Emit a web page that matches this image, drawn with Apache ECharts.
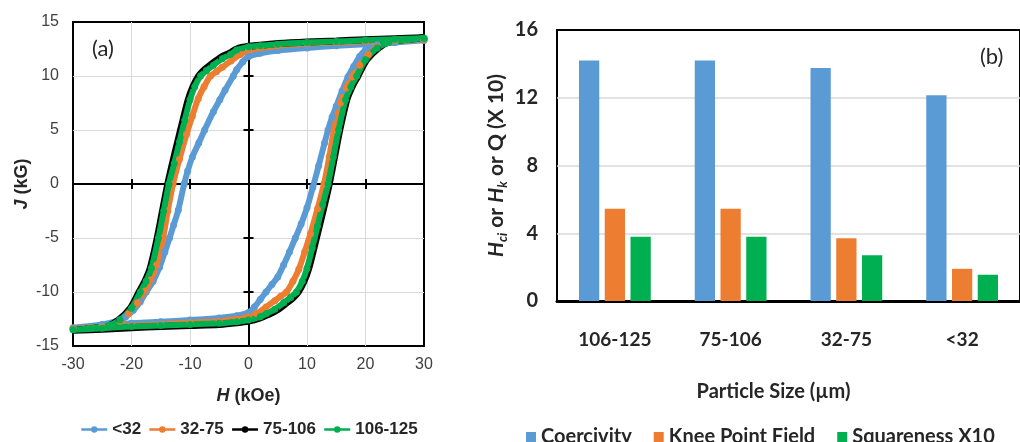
<!DOCTYPE html>
<html><head><meta charset="utf-8">
<script src="https://cdn.jsdelivr.net/npm/echarts@6/dist/echarts.min.js"></script>
<style>html,body{margin:0;padding:0;background:#fff}#c{width:1020px;height:442px}</style>
</head><body><div id="c"></div>
<script>
// ---- (a) hysteresis loops: [H (kOe), J (kG)] — upper branch (30 -> -30) then lower branch (-30 -> 30)
const loopLt32 = [
  [30,13.3],[25,13.1],[20,12.95],[15,12.8],[10,12.6],[5,12.35],[2,12.1],[0,11.8],[-1,11.3],[-2,10.6],[-2.6,10.0],[-4,8.7],[-4.9,7.8],[-6,6.7],[-7.5,5.0],[-8.5,3.8],[-9.6,2.5],[-10.4,1.2],[-11.0,0],[-12.0,-2.4],[-12.8,-3.8],[-13.5,-5.0],[-14.3,-6.3],[-15.2,-7.7],[-16.3,-9.0],[-17.5,-10.0],[-18.5,-10.9],[-19.7,-11.7],[-21,-12.3],[-22,-12.6],[-25,-13.0],[-30,-13.3],
  [-25,-13.1],[-20,-12.9],[-15,-12.75],[-10,-12.6],[-5,-12.4],[-2,-12.2],[0,-11.9],[1,-11.4],[2,-10.7],[3,-10.0],[4,-9.3],[5,-8.6],[6,-7.5],[7,-6.3],[8,-5.0],[9,-3.7],[10,-2.2],[11,-0.3],[12,1.7],[13,3.8],[13.6,5.0],[14.3,6.2],[15,7.2],[16,8.6],[17,9.9],[18,10.9],[19,11.8],[20,12.4],[22,12.9],[25,13.1],[30,13.3]
];
const loop32to75 = [
  [30,13.4],[25,13.3],[20,13.2],[15,13.1],[10,13.0],[5,12.8],[2,12.6],[0,12.4],[-1.4,12.0],[-3,11.4],[-4.5,10.8],[-5.5,10.4],[-6.5,10.0],[-7.6,9.0],[-8.6,7.9],[-9.6,6.3],[-10.6,4.6],[-11.8,2.3],[-12.9,0],[-13.8,-2.5],[-14.6,-5.0],[-15.7,-7.5],[-16.7,-8.9],[-17.7,-9.9],[-19,-11.0],[-20.5,-12.0],[-22,-12.7],[-24,-13.1],[-27,-13.3],[-30,-13.4],
  [-25,-13.25],[-20,-13.1],[-15,-13.0],[-10,-12.85],[-5,-12.7],[-2,-12.5],[0,-12.3],[1.4,-12.0],[3,-11.4],[4.5,-10.8],[5.5,-10.4],[6.5,-10.0],[7.6,-9.0],[8.6,-7.9],[9.6,-6.3],[10.6,-4.6],[11.8,-2.3],[12.9,0],[13.8,2.5],[14.6,5.0],[15.7,7.5],[16.7,8.9],[17.7,9.9],[19,11.0],[20.5,12.0],[22,12.7],[24,13.1],[27,13.3],[30,13.4]
];
const loop75to106 = [
  [30,13.55],[25,13.45],[20,13.35],[15,13.25],[10,13.15],[5,13.0],[2,12.85],[0,12.75],[-2,12.5],[-3.3,12.1],[-4.8,11.7],[-6.3,11.1],[-7.5,10.6],[-8.5,10.0],[-9.5,9.0],[-10.3,7.8],[-11.2,5.9],[-12.1,3.9],[-13.0,1.9],[-13.8,0],[-14.7,-2.5],[-15.6,-5.0],[-16.8,-7.8],[-17.7,-9.0],[-18.7,-10.0],[-20.2,-11.5],[-22.2,-12.6],[-24,-13.15],[-27,-13.4],[-30,-13.55],
  [-25,-13.45],[-20,-13.3],[-15,-13.2],[-10,-13.1],[-5,-13.0],[-2,-12.85],[0,-12.7],[2,-12.4],[3.3,-12.1],[4.8,-11.7],[6.3,-11.1],[7.5,-10.6],[8.5,-10.0],[9.5,-9.0],[10.3,-7.8],[11.2,-5.9],[12.1,-3.9],[13.0,-1.9],[13.8,0],[14.7,2.5],[15.6,5.0],[16.8,7.8],[17.7,9.0],[18.7,10.0],[20.2,11.5],[22.2,12.6],[24,13.15],[27,13.4],[30,13.55]
];
const loop106to125 = [
  [30,13.5],[25,13.4],[20,13.3],[15,13.2],[10,13.1],[5,12.95],[2,12.8],[0,12.7],[-2,12.4],[-3.1,12.0],[-4.5,11.6],[-6,11.0],[-7.2,10.5],[-8.2,10.0],[-9.2,9.0],[-10,7.8],[-10.9,5.9],[-11.8,3.9],[-12.7,1.9],[-13.6,0],[-14.5,-2.5],[-15.4,-5.0],[-16.6,-7.8],[-17.5,-9.0],[-18.5,-10.0],[-20,-11.5],[-22,-12.6],[-24,-13.1],[-27,-13.35],[-30,-13.5],
  [-25,-13.35],[-20,-13.2],[-15,-13.1],[-10,-13.0],[-5,-12.9],[-2,-12.75],[0,-12.6],[2,-12.3],[3.1,-12.0],[4.5,-11.6],[6,-11.0],[7.2,-10.5],[8.2,-10.0],[9.2,-9.0],[10,-7.8],[10.9,-5.9],[11.8,-3.9],[12.7,-1.9],[13.6,0],[14.5,2.5],[15.4,5.0],[16.6,7.8],[17.5,9.0],[18.5,10.0],[20,11.5],[22,12.6],[24,13.1],[27,13.35],[30,13.5]
];
const loopNames = ['<32', '32-75', '75-106', '106-125'];
const hTickMarks = [-20, -10, 10, 20];
const jTickMarks = [-10, -5, 5, 10];

// ---- (b) bar chart
const sizeCategories = ['106-125', '75-106', '32-75', '<32'];
const coercivity = [14.2, 14.2, 13.75, 12.15];
const kneePointField = [5.45, 5.45, 3.7, 1.9];
const squarenessX10 = [3.8, 3.8, 2.7, 1.55];
const barNames = ['Coercivity', 'Knee Point Field', 'Squareness X10'];

const ARIAL = 'Liberation Sans';
const CAL = 'Lato';
const blue = '#5B9BD5', orange = '#ED7D31', green = '#00B050';

const chart = echarts.init(document.getElementById('c'), null, {renderer: 'canvas'});

function zeroAxisX(pos) {
  return {gridIndex: 0, type: 'value', min: -30, max: 30, interval: 10, position: pos,
    axisLine: {show: pos === 'bottom', onZero: true, onZeroAxisIndex: 0, lineStyle: {color: '#000', width: 2}},
    axisTick: {show: true, inside: true, length: 5, customValues: hTickMarks, lineStyle: {color: '#000', width: 2}},
    axisLabel: {show: false}, splitLine: {show: false}};
}
function zeroAxisY(pos) {
  return {gridIndex: 0, type: 'value', min: -15, max: 15, interval: 5, position: pos,
    axisLine: {show: pos === 'left', onZero: true, onZeroAxisIndex: 0, lineStyle: {color: '#000', width: 2}},
    axisTick: {show: true, inside: true, length: 5, customValues: jTickMarks, lineStyle: {color: '#000', width: 2}},
    axisLabel: {show: false}, splitLine: {show: false}};
}
const loopStyle = [
  {data: loopLt32, color: blue, w: 6, s: 7},
  {data: loop32to75, color: orange, w: 6, s: 7},
  {data: loop75to106, color: '#000', w: 7, s: 5},
  {data: loop106to125, color: green, w: 6, s: 7}
];

const option = {
  animation: false,
  backgroundColor: '#fff',
  grid: [
    {left: 73, top: 22, width: 351, height: 324, show: true, borderColor: '#000', borderWidth: 2, backgroundColor: 'transparent'},
    {left: 557, top: 30, width: 473, height: 271, show: true, borderColor: '#000', borderWidth: 2, backgroundColor: 'transparent'}
  ],
  xAxis: [
    {gridIndex: 0, type: 'value', min: -30, max: 30, interval: 10, position: 'bottom',
      axisLine: {show: false, onZero: false}, axisTick: {show: false},
      splitLine: {show: true, showMinLine: false, showMaxLine: false, lineStyle: {color: '#d9d9d9', width: 1}},
      axisLabel: {fontFamily: ARIAL, fontSize: 16, color: '#404040', margin: 11},
      name: '{i|H} (kOe)', nameLocation: 'middle', nameGap: 41,
      nameTextStyle: {fontFamily: ARIAL, fontWeight: 'bold', fontSize: 18, color: '#262626',
        rich: {i: {fontFamily: ARIAL, fontWeight: 'bold', fontStyle: 'italic', fontSize: 18, color: '#262626'}}}},
    zeroAxisX('bottom'),
    zeroAxisX('top'),
    {gridIndex: 1, type: 'category', data: sizeCategories, position: 'bottom',
      axisLine: {show: true, onZero: false, lineStyle: {color: '#000', width: 3}}, axisTick: {show: false},
      axisLabel: {fontFamily: CAL, fontWeight: 'bold', fontSize: 19, color: '#262626', margin: 29},
      name: 'Particle Size (µm)', nameLocation: 'middle', nameGap: 81,
      nameTextStyle: {fontFamily: CAL, fontWeight: 'bold', fontSize: 20, color: '#262626', padding: [0, 30, 0, 0]}}
  ],
  yAxis: [
    {gridIndex: 0, type: 'value', min: -15, max: 15, interval: 5, position: 'left',
      axisLine: {show: false, onZero: false}, axisTick: {show: false},
      splitLine: {show: true, showMinLine: false, showMaxLine: false, lineStyle: {color: '#d9d9d9', width: 1}},
      axisLabel: {fontFamily: ARIAL, fontSize: 16, color: '#404040', margin: 14},
      name: '{i|J} (kG)', nameLocation: 'middle', nameGap: 42,
      nameTextStyle: {fontFamily: ARIAL, fontWeight: 'bold', fontSize: 18, color: '#262626',
        rich: {i: {fontFamily: ARIAL, fontWeight: 'bold', fontStyle: 'italic', fontSize: 18, color: '#262626'}}}},
    zeroAxisY('left'),
    zeroAxisY('right'),
    {gridIndex: 1, type: 'value', min: 0, max: 16, interval: 4, position: 'left',
      axisLine: {show: false, onZero: false}, axisTick: {show: false},
      splitLine: {show: true, showMinLine: false, showMaxLine: false, lineStyle: {color: '#d9d9d9', width: 1.5}},
      axisLabel: {fontFamily: CAL, fontWeight: 'bold', fontSize: 20, color: '#262626', margin: 19},
      name: '{i|H}{sub|ci} or {i|H}{sub|k} or Q (X 10)', nameLocation: 'middle', nameGap: 48,
      nameTextStyle: {fontFamily: CAL, fontWeight: 'bold', fontSize: 21, color: '#262626',
        rich: {
          i: {fontFamily: CAL, fontWeight: 'bold', fontStyle: 'italic', fontSize: 21, color: '#262626', lineHeight: 26},
          sub: {fontFamily: CAL, fontWeight: 'bold', fontStyle: 'italic', fontSize: 13, color: '#262626', verticalAlign: 'bottom', lineHeight: 26}
        }}}
  ],
  legend: [
    {data: loopNames, left: 75, top: 416, itemWidth: 26, itemHeight: 8, itemGap: 7,
      lineStyle: {width: 2.5},
      textStyle: {fontFamily: ARIAL, fontWeight: 'bold', fontSize: 17, color: '#262626'}},
    {data: barNames, left: 521, top: 422, icon: 'rect', itemWidth: 10, itemHeight: 10, itemGap: 22,
      textStyle: {fontFamily: CAL, fontWeight: 'bold', fontSize: 20, color: '#262626'}}
  ],
  graphic: [
    {type: 'text', left: 92, top: 38, style: {text: '(a)', fontFamily: CAL, fontSize: 22, fill: '#262626'}},
    {type: 'text', left: 980, top: 46, style: {text: '(b)', fontFamily: CAL, fontSize: 22, fill: '#262626'}}
  ],
  series: loopNames.map((n, i) => ({
    name: n, type: 'line', xAxisIndex: 0, yAxisIndex: 0, data: loopStyle[i].data,
    smooth: 0.3, symbol: 'circle', symbolSize: loopStyle[i].s, showSymbol: true, showAllSymbol: true,
    lineStyle: {color: loopStyle[i].color, width: loopStyle[i].w},
    itemStyle: {color: loopStyle[i].color}
  })).concat([
    {name: barNames[0], type: 'bar', xAxisIndex: 3, yAxisIndex: 3, data: coercivity, itemStyle: {color: blue}, barGap: '27%', barCategoryGap: '38%'},
    {name: barNames[1], type: 'bar', xAxisIndex: 3, yAxisIndex: 3, data: kneePointField, itemStyle: {color: orange}, barGap: '27%', barCategoryGap: '38%'},
    {name: barNames[2], type: 'bar', xAxisIndex: 3, yAxisIndex: 3, data: squarenessX10, itemStyle: {color: green}, barGap: '27%', barCategoryGap: '38%'}
  ])
};
chart.setOption(option);
</script></body></html>
